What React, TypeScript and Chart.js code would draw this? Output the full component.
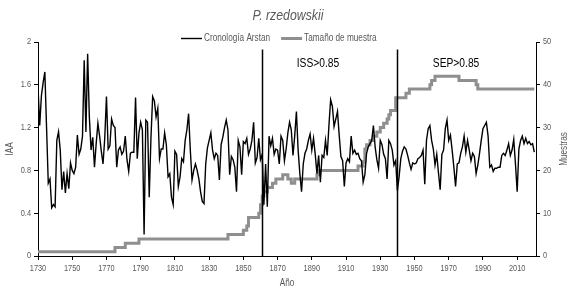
import React, { useEffect, useRef } from "react";
import { Chart, registerables } from "chart.js";

Chart.register(...registerables);

// ---- data ----
const startYear = 1730;

const iaa: number[] = [
  // 1730-1739
  1.58, 1.22, 1.5, 1.62, 1.72, 1.2, 0.68, 0.72, 0.45, 0.48,
  // 1740-1749
  0.46, 1.08, 1.16, 0.99, 0.62, 0.79, 0.59, 0.77, 0.63, 0.87,
  // 1750-1759
  0.8, 0.77, 0.83, 1.13, 0.95, 1.0, 1.12, 1.83, 1.16, 1.89,
  // 1760-1769
  1.3, 0.99, 1.11, 0.83, 1.05, 1.24, 1.12, 0.98, 0.86, 1.1,
  // 1770-1779
  1.49, 1.0, 1.03, 1.28, 1.22, 1.2, 0.83, 0.99, 1.02, 0.95,
  // 1780-1789
  0.98, 1.12, 0.9, 0.79, 0.96, 0.97, 0.97, 1.48, 0.91, 1.15,
  // 1790-1799
  1.25, 1.18, 0.2, 1.27, 1.25, 0.55, 1.1, 1.49, 1.45, 1.3,
  // 1800-1809
  1.38, 0.91, 1.0, 1.0, 1.15, 1.04, 0.74, 0.77, 0.55, 0.48,
  // 1810-1819
  0.98, 0.95, 0.65, 0.74, 0.91, 0.88, 1.08, 1.18, 1.33, 0.99,
  // 1820-1829
  0.71, 0.8, 0.86, 0.8, 0.72, 0.6, 0.51, 0.49, 0.86, 1.01,
  // 1830-1839
  1.08, 1.15, 0.99, 0.91, 0.96, 0.94, 0.71, 1.04, 1.11, 1.2,
  // 1840-1849
  1.27, 1.18, 0.76, 0.93, 0.9, 0.83, 0.6, 1.08, 1.02, 0.76,
  // 1850-1859
  1.07, 1.05, 1.1, 0.95, 1.0, 1.08, 1.25, 0.87, 0.92, 1.1,
  // 1860-1869
  0.9, 0.95, 0.48, 0.86, 0.46, 1.12, 1.03, 1.1, 0.95, 1.0,
  // 1870-1879
  0.99, 0.86, 1.12, 1.08, 0.89, 1.0, 1.15, 1.25, 1.18, 0.94,
  // 1880-1889
  1.12, 1.35, 0.99, 0.77, 0.6, 0.86, 0.96, 1.0, 1.08, 1.14,
  // 1890-1899
  0.99, 1.1, 0.95, 0.77, 0.94, 0.69, 0.94, 0.92, 1.08, 0.94,
  // 1900-1909
  1.22, 1.46, 1.4, 1.21, 1.28, 1.35, 1.13, 0.93, 0.89, 0.65,
  // 1910-1919
  0.87, 0.91, 0.88, 1.12, 0.96, 0.99, 0.95, 0.96, 0.91, 0.89,
  // 1920-1929
  0.69, 0.76, 0.96, 1.02, 1.05, 1.08, 1.22, 1.02, 0.9, 0.82,
  // 1930-1939
  1.08, 1.04, 0.95, 0.91, 0.72, 1.08, 1.05, 0.99, 0.85, 0.89,
  // 1940-1949
  0.61, 0.74, 0.91, 0.98, 1.02, 1.0, 0.94, 0.87, 0.81, 0.87,
  // 1950-1959
  0.86, 0.87, 0.91, 0.92, 0.94, 0.99, 0.67, 1.08, 1.19, 1.22,
  // 1960-1969
  1.08, 1.0, 0.85, 0.95, 0.78, 0.62, 0.95, 0.99, 1.19, 1.27,
  // 1970-1979
  1.08, 1.13, 0.99, 0.83, 0.65, 0.86, 0.87, 0.96, 1.02, 1.12,
  // 1980-1989
  0.97, 1.08, 0.99, 0.89, 0.96, 0.93, 0.77, 0.85, 0.96, 1.08,
  // 1990-1999
  1.19, 1.22, 1.25, 1.12, 0.83, 0.85, 0.79, 0.82, 0.82, 0.83,
  // 2000-2009
  0.83, 0.94, 0.96, 0.94, 0.99, 1.05, 0.94, 0.99, 1.09, 0.86,
  // 2010-2020
  0.6, 1.0, 1.08, 1.12, 1.05, 1.1, 1.05, 1.07, 1.04, 1.05, 0.97,
];

// sample size: year at which the count changes, and the new count
const sampleYears: number[] = [
  1730, 1775, 1781, 1789, 1841, 1850, 1852, 1853, 1859, 1860, 1861, 1862, 1864,
  1867, 1869, 1872, 1873, 1876, 1878, 1880, 1893, 1894, 1917, 1920, 1921, 1922,
  1924, 1926, 1928, 1930, 1932, 1934, 1935, 1936, 1939, 1945, 1947, 1959, 1960,
  1962, 1976, 1986, 1987, 2020,
];
const sampleCounts: number[] = [
  1, 2, 3, 4, 5, 6, 7, 9, 10, 12, 14, 15, 16,
  17, 18, 18, 19, 18, 17, 18, 19, 20, 21, 22, 25, 26,
  27, 28, 29, 30, 31, 32, 33, 34, 37, 38, 39, 40, 41,
  42, 41, 40, 39, 39,
];

const xTickYears: number[] = [
  1730, 1750, 1770, 1790, 1810, 1830, 1850, 1870, 1890, 1910, 1930, 1950, 1970, 1990, 2010,
];
const markerYears: number[] = [1861, 1940];
const markerLabels: string[] = ["ISS>0.85", "SEP>0.85"];
const markerLabelYears: number[] = [1893.6, 1974.3];
const markerLabelValue = 1.8;
const markerTopValue = 1.93;

const titleText = "P. rzedowskii";
const seriesNames: string[] = ["Cronología Arstan", "Tamaño de muestra"];
const xTitle = "Año";
const yTitle = "IAA";
const y1Title = "Muestras";

const FONT = "'Liberation Sans', Arial, sans-serif";
const NARROW = 0.82;
const TEXT_GRAY = "#595959";
const SAMPLE_GRAY = "#8f8f8f";

function narrowText(
  ctx: CanvasRenderingContext2D,
  text: string,
  x: number,
  y: number,
  align: CanvasTextAlign,
  rotate = 0
) {
  ctx.save();
  ctx.translate(x, y);
  if (rotate) ctx.rotate(rotate);
  ctx.scale(NARROW, 1);
  ctx.textAlign = align;
  ctx.textBaseline = "middle";
  ctx.fillText(text, 0, 0);
  ctx.restore();
}

function fmt(v: number) {
  return String(Number(v.toFixed(1)));
}

const overlayPlugin = {
  id: "overlay",
  afterDraw(chart: any) {
    const ctx: CanvasRenderingContext2D = chart.ctx;
    const xs = chart.scales.x;
    const ys = chart.scales.y;
    const y1s = chart.scales.y1;
    const area = chart.chartArea;
    ctx.save();

    // vertical marker lines
    ctx.strokeStyle = "#000";
    ctx.lineWidth = 1.5;
    markerYears.forEach((yr) => {
      const px = Math.round(xs.getPixelForValue(yr)) + 0.5;
      ctx.beginPath();
      ctx.moveTo(px, ys.getPixelForValue(markerTopValue));
      ctx.lineTo(px, ys.getPixelForValue(0));
      ctx.stroke();
    });

    // marker labels
    ctx.fillStyle = "#000";
    ctx.font = `12.5px ${FONT}`;
    markerLabels.forEach((t, i) => {
      narrowText(ctx, t, xs.getPixelForValue(markerLabelYears[i]), ys.getPixelForValue(markerLabelValue), "center");
    });

    // tick labels
    ctx.fillStyle = TEXT_GRAY;
    ctx.font = `9px ${FONT}`;
    xs.ticks.forEach((t: any) => {
      narrowText(ctx, String(t.value), xs.getPixelForValue(t.value), area.bottom + 13, "center");
    });
    ys.ticks.forEach((t: any) => {
      narrowText(ctx, fmt(t.value), area.left - 7, ys.getPixelForValue(t.value), "right");
    });
    y1s.ticks.forEach((t: any) => {
      narrowText(ctx, fmt(t.value), area.right + 7, y1s.getPixelForValue(t.value), "left");
    });

    // title
    ctx.font = `italic 15px ${FONT}`;
    narrowText(ctx, titleText, 288, 16, "center");

    // legend
    ctx.font = `10px ${FONT}`;
    const ly = 38.5;
    let lx = 181;
    const colors = ["#000", SAMPLE_GRAY];
    const widths = [1.4, 3];
    seriesNames.forEach((name, i) => {
      ctx.strokeStyle = colors[i];
      ctx.lineWidth = widths[i];
      ctx.beginPath();
      ctx.moveTo(lx, ly);
      ctx.lineTo(lx + 21, ly);
      ctx.stroke();
      ctx.fillStyle = TEXT_GRAY;
      narrowText(ctx, name, lx + 23, ly, "left");
      lx += 23 + ctx.measureText(name).width * NARROW + 11;
    });

    // axis titles
    ctx.font = `10px ${FONT}`;
    ctx.fillStyle = TEXT_GRAY;
    narrowText(ctx, xTitle, (area.left + area.right) / 2, 283, "center");
    const midY = (area.top + area.bottom) / 2;
    narrowText(ctx, yTitle, 10, midY, "center", -Math.PI / 2);
    narrowText(ctx, y1Title, 564, midY, "center", -Math.PI / 2);

    ctx.restore();
  },
};

export default function App() {
  const ref = useRef<HTMLCanvasElement | null>(null);

  useEffect(() => {
    document.body.style.margin = "0";
    if (!ref.current) return;
    const gridOpts = { display: true, drawOnChartArea: false, drawTicks: true, tickLength: 4, color: "#000" };
    const borderOpts = { display: true, color: "#000", width: 1 };
    const chart = new Chart(ref.current, {
      type: "line",
      data: {
        datasets: [
          {
            label: seriesNames[0],
            data: iaa.map((v, i) => ({ x: startYear + i, y: v })),
            borderColor: "#000",
            borderWidth: 1.4,
            pointRadius: 0,
            tension: 0,
            yAxisID: "y",
          },
          {
            label: seriesNames[1],
            data: sampleYears.map((yr, i) => ({ x: yr, y: sampleCounts[i] })),
            borderColor: SAMPLE_GRAY,
            borderWidth: 3,
            pointRadius: 0,
            stepped: "before",
            yAxisID: "y1",
          },
        ],
      },
      options: {
        animation: false,
        responsive: false,
        devicePixelRatio: 1,
        layout: { padding: { top: 42, left: 0, right: 0, bottom: 0 } },
        plugins: {
          legend: { display: false },
          title: { display: false },
          tooltip: { enabled: false },
        },
        scales: {
          x: {
            type: "linear",
            min: 1730,
            max: 2021,
            afterBuildTicks: (s: any) => {
              s.ticks = xTickYears.map((v) => ({ value: v }));
            },
            afterFit: (s: any) => {
              s.height = 36;
            },
            grid: gridOpts,
            border: borderOpts,
            ticks: { display: false, autoSkip: false },
          },
          y: {
            position: "left",
            min: 0,
            max: 2,
            afterFit: (s: any) => {
              s.width = 38;
            },
            grid: gridOpts,
            border: borderOpts,
            ticks: { stepSize: 0.4, display: false },
          },
          y1: {
            position: "right",
            min: 0,
            max: 50,
            afterFit: (s: any) => {
              s.width = 40;
            },
            grid: gridOpts,
            border: borderOpts,
            ticks: { stepSize: 10, display: false },
          },
        },
      },
      plugins: [overlayPlugin],
    });
    return () => chart.destroy();
  }, []);

  return (
    <div style={{ position: "absolute", left: 0, top: 0, width: 576, height: 292 }}>
      <canvas ref={ref} width={576} height={292} />
    </div>
  );
}
